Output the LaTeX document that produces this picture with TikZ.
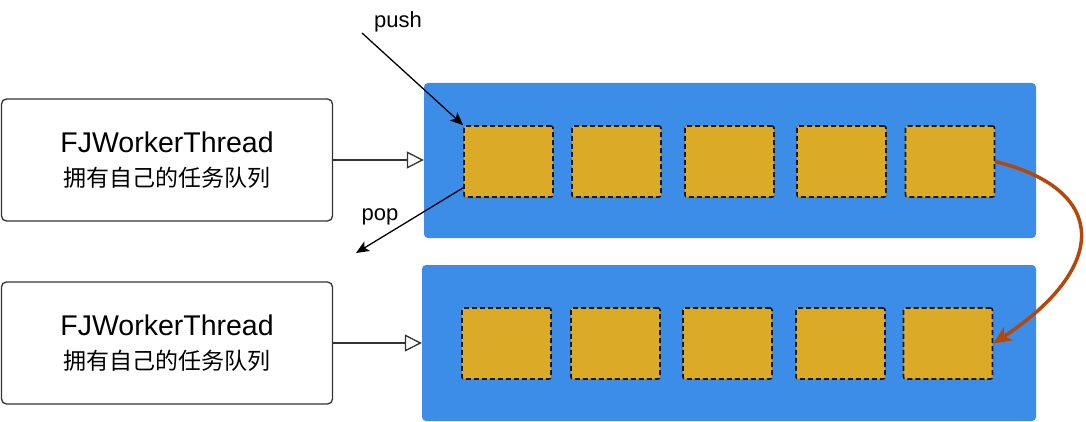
\documentclass[tikz,border=0pt]{standalone}
\usepackage{fontspec}
\setmainfont{Liberation Sans}
\newfontfamily\cjk{Noto Sans CJK SC}
\usetikzlibrary{arrows.meta}
\usetikzlibrary{positioning}

\definecolor{queueblue}{HTML}{3C8DE8}
\definecolor{taskyellow}{HTML}{DBAB28}
\definecolor{stealbrown}{HTML}{B4480C}

\tikzset{
  thread/.style={draw=black!80,line width=1.3pt,rounded corners=5pt,fill=white,
    minimum width=331pt,minimum height=122pt,align=center,
    font=\fontsize{28.5}{34}\selectfont},
  queue/.style={fill=queueblue,rounded corners=4pt,minimum height=155pt},
  task/.style={draw=black!90,fill=taskyellow,line width=1.6pt,dash pattern=on 5pt off 3pt,
    rounded corners=2pt,minimum width=89pt,minimum height=71pt},
  feed/.style={draw=black!80,line width=1.3pt,-{Triangle[open,length=17pt,width=17pt]}},
  move/.style={draw=black,line width=1.3pt,-{Stealth[length=13pt,width=11pt,inset=3pt]}},
  label/.style={font=\fontsize{22}{26}\selectfont}
}

\begin{document}
\begin{tikzpicture}[x=1pt,y=-1pt]
\useasboundingbox (0,0) rectangle (1086,422);

% the two worker threads
\node[thread] (thread1) at (167,160) {FJWorkerThread\\[0pt]
  {\cjk\fontsize{23}{26}\selectfont 拥有自己的任务队列}};
\node[thread] (thread2) at (167,343) {FJWorkerThread\\[0pt]
  {\cjk\fontsize{23}{26}\selectfont 拥有自己的任务队列}};

% their queues
\node[queue,minimum width=612pt] (queue1) at (730,160.5) {};
\node[queue,minimum width=614pt,minimum height=156pt] (queue2) at (729,343) {};

\foreach \x [count=\i] in {508.5,616.5,729.5,841.5,950} % tasks of the first queue
\node[task] (taskA\i) at (\x,161.5) {};

\foreach \x [count=\i] in {506.5,615.5,727.5,840.5,948} % tasks of the second queue
\node[task] (taskB\i) at (\x,343.5) {};

\draw[feed] (thread1.east) -- (queue1.west|-thread1.east);
\draw[feed] (thread2.east) -- (queue2.west|-thread2.east);

% push and pop at the head
\coordinate (pushfrom) at (362,33);
\coordinate (popto) at (356,253);
\node[label] (push) at (398,22) {push};
\node[label] (pop) at (380,217) {pop};
\draw[move] (pushfrom) -- (taskA1.north west);
\draw[move] ([yshift=10pt]taskA1.south west) -- (popto);

% stealing from the tail
\draw[stealbrown,line width=3.5pt,-{Stealth[length=18pt,width=16pt,inset=5pt]}]
  (taskA5.east) .. controls (1110,190) and (1108,268) .. (taskB5.east);
\end{tikzpicture}
\end{document}
